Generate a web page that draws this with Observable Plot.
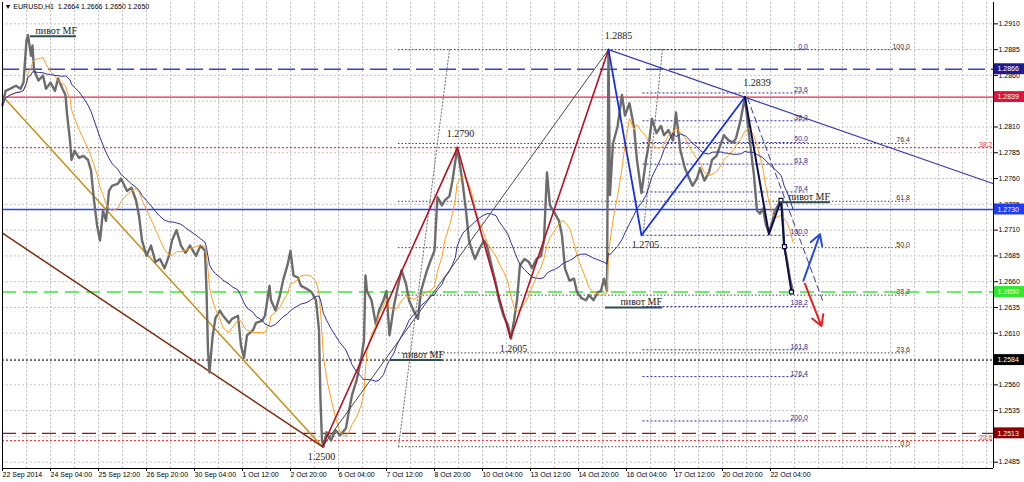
<!DOCTYPE html>
<html><head><meta charset="utf-8">
<script src="https://cdn.jsdelivr.net/npm/d3@7"></script>
<script src="https://cdn.jsdelivr.net/npm/@observablehq/plot@0.6"></script>
<style>
html,body{margin:0;padding:0;background:#fff;}
svg{display:block}
</style></head><body><div id="chart"></div>
<script>
// ---- data ----
const symbolName = "EURUSD,H1";
const lastOHLC = [1.2664, 1.2666, 1.2650, 1.2650];

const priceBars = [0,2,5,9,12,14,16,17,19,20,21,24,27,29,32,35,37,40,42,43,45,46,48,51,54,57,59,61,63,65,67,69,71,73,77,79,83,86,89,91,93,96,99,102,105,108,111,113,116,119,122,125,129,132,135,136,137,138,140,142,145,147,151,153,157,159,161,163,167,169,173,175,178,179,182,185,187,190,192,194,197,199,203,206,209,211,212,213,214,216,219,222,225,229,231,233,236,239,241,242,243,246,249,251,254,256,258,261,263,266,269,271,274,277,279,283,285,288,290,293,295,298,300,302,303,305,307,309,311,313,315,318,321,323,326,329,331,334,337,339,341,343,345,348,351,353,356,359,361,363,365,368,371,373,375,378,381,383,386,389,391,394,397,399,401,403,404,405,407,410,413,415,418,421,423,426,429,431,433,436,439,441,444,447,449,452,455,457,460,463,465,468,471,473,476,479,481,484,487,489,492,495,497,499,501,503,505,507,509,511,513,515,517,519,520,521,523,525,527];
const priceVals = [1.2831,1.2845,1.2847,1.2850,1.2847,1.2853,1.2894,1.2899,1.2879,1.2889,
1.2865,1.2855,1.2860,1.2847,1.2853,1.2845,1.2857,1.2847,1.2841,1.2823,
1.2797,1.2778,1.2787,1.2780,1.2782,1.2778,1.2768,1.2739,1.2715,1.2700,
1.2729,1.2719,1.2748,1.2753,1.2755,1.2760,1.2748,1.2751,1.2739,1.2724,
1.2700,1.2685,1.2695,1.2679,1.2682,1.2673,1.2685,1.2700,1.2710,1.2695,
1.2688,1.2695,1.2685,1.2695,1.2690,1.2652,1.2593,1.2572,1.2606,1.2625,
1.2632,1.2627,1.2620,1.2624,1.2627,1.2598,1.2586,1.2608,1.2613,1.2620,
1.2622,1.2627,1.2656,1.2642,1.2632,1.2647,1.2661,1.2676,1.2690,1.2666,
1.2664,1.2656,1.2653,1.2650,1.2642,1.2613,1.2545,1.2506,1.2500,1.2514,
1.2506,1.2516,1.2511,1.2518,1.2535,1.2550,1.2564,1.2584,1.2603,1.2666,
1.2651,1.2642,1.2618,1.2632,1.2642,1.2651,1.2608,1.2637,1.2651,1.2671,
1.2658,1.2642,1.2632,1.2624,1.2651,1.2671,1.2679,1.2690,1.2742,1.2734,
1.2739,1.2743,1.2758,1.2778,1.2790,1.2773,1.2753,1.2729,1.2700,1.2690,
1.2682,1.2692,1.2700,1.2695,1.2676,1.2658,1.2642,1.2627,1.2618,1.2605,
1.2622,1.2642,1.2676,1.2682,1.2679,1.2673,1.2682,1.2685,1.2700,1.2766,
1.2734,1.2727,1.2719,1.2705,1.2673,1.2661,1.2663,1.2650,1.2644,1.2642,
1.2647,1.2642,1.2650,1.2651,1.2663,1.2651,1.2885,1.2744,1.2794,1.2810,
1.2841,1.2821,1.2833,1.2810,1.2778,1.2746,1.2778,1.2794,1.2818,1.2804,
1.2811,1.2802,1.2807,1.2797,1.2824,1.2787,1.2770,1.2763,1.2753,1.2760,
1.2770,1.2758,1.2766,1.2778,1.2782,1.2794,1.2802,1.2797,1.2795,1.2799,
1.2816,1.2839,1.2811,1.2787,1.2763,1.2729,1.2726,1.2731,1.2715,1.2708,
1.2717,1.2729,1.2734,1.2739,1.2727,1.2695,1.2681,1.2663,1.2650];

const xTickBars = [0,32,64,96,128,160,192,224,256,288,320,352,384,416,448,480,512];
const xTickLabels = ["22 Sep 2014","24 Sep 04:00","25 Sep 12:00","26 Sep 20:00","30 Sep 04:00","1 Oct 12:00","2 Oct 20:00","6 Oct 04:00","7 Oct 12:00","8 Oct 20:00","10 Oct 04:00","13 Oct 12:00","14 Oct 20:00","16 Oct 04:00","17 Oct 12:00","20 Oct 20:00","22 Oct 04:00"];
const yTicks = [1.2485,1.2510,1.2535,1.2560,1.2585,1.2610,1.2635,1.2660,1.2685,1.2710,1.2735,1.2760,1.2785,1.2810,1.2835,1.2860,1.2885,1.2910];
// tick labels that the price boxes cover completely
const yTicksHidden = [1.2510, 1.2585, 1.2835];

// horizontal levels
const levelBlueDash = 1.2866, levelCrimson = 1.2839, levelBlue = 1.2730, levelGreen = 1.2650, levelBlack = 1.2584, levelDarkRed = 1.2513;
const boxLevels = [1.2866, 1.2839, 1.2730, 1.2650, 1.2584, 1.2513];
const redFibPrices = [1.2790, 1.2506];
const redFibLabels = ["38.2", "23.6"];

// big fibonacci (1.2500 -> 1.2885)
const blackFibPrices = [1.2500, 1.2591, 1.2647, 1.2693, 1.2738, 1.2794, 1.2885];
const blackFibLabels = ["0.0","23.6","38.2","50.0","61.8","76.4","100.0"];
const blackFibSpan = [264, 605];
const blackFibDiag = {x: [264, 298], y: [1.2500, 1.2885]};

// small fibonacci (1.2885 -> 1.2705)
const blueFibPrices = [1.2885, 1.2843, 1.2816, 1.2795, 1.2774, 1.2747, 1.2705, 1.2636, 1.2594, 1.2568, 1.2525];
const blueFibLabels = ["0.0","23.6","38.2","50.0","61.8","76.4","100.0","138.2","161.8","176.4","200.0"];
const blueFibSpan = [427, 537];
const blueFibDiag = {x: [427, 440], y: [1.2705, 1.2885]};

// trend lines / zigzags
const goldLine = {x: [0, 213.3], y: [1.2840, 1.2500]};
const brownLine = {x: [0, 213.3], y: [1.2707, 1.2500]};
const greyTrend = {x: [213.3, 404], y: [1.2500, 1.2885]};
const redZigzag = {x: [213.3, 303.3, 338.7, 404], y: [1.2500, 1.2790, 1.2605, 1.2885]};
const blueZigzag = {x: [404, 426, 495], y: [1.2885, 1.2705, 1.2839]};
const navyZigzag = {x: [495, 511, 519, 521.3, 526], y: [1.2839, 1.2706, 1.2739, 1.2694, 1.2650]};
const navySquares = {x: [519, 521.3, 526], y: [1.2739, 1.2694, 1.2650]};
const downTrend = {x: [404, 660.7], y: [1.2885, 1.2755]};
const dashedChannel = {x: [496.7, 546.7], y: [1.2838, 1.2642]};
const arrowUp = {x: [534, 545], y: [1.2661, 1.2706]};
const arrowDown = {x: [535, 546], y: [1.2658, 1.2617]};

// "пивот MF" marks
const pivotPrices = [1.2898, 1.2584, 1.2635, 1.2737];
const pivotX1 = [18.7, 258.7, 402, 518.7];
const pivotX2 = [49.3, 293.3, 440, 552];
const pivotTextX = [22, 266.7, 412, 524];

// swing labels
const swingUp = {x: [410.7, 503, 305.3], y: [1.2885, 1.2839, 1.2790]};
const swingDown = {x: [428.7, 340.7, 212.7], y: [1.2705, 1.2605, 1.2500]};

// ---- chart ----
const xDomain = [0, 660.7];
const yDomain = [1.24789, 1.29307];
const rows = priceBars.map((b, i) => ({b, p: priceVals[i]}));
const pairs = o => o.x.map((x, i) => ({x, y: o.y[i]}));
const fmt = d => d.toFixed(4);
const serif = "Liberation Serif, Times New Roman, serif";
const boxX1 = 661.3, boxX2 = 682, boxTx = 663.3, halfBox = 0.00053;

const marks = [
  Plot.gridX(d3.range(0, 661, 16), {stroke: "#c4c4c4", strokeOpacity: 1, strokeDasharray: "2,2"}),
  Plot.gridY(yTicks, {stroke: "#c4c4c4", strokeOpacity: 1, strokeDasharray: "2,2"}),

  // horizontal levels
  Plot.ruleY([levelBlueDash], {stroke: "#3a44b8", strokeWidth: 1.5, strokeDasharray: "17,6"}),
  Plot.ruleY([levelCrimson], {stroke: "#e8284c", strokeWidth: 1.2}),
  Plot.ruleY(redFibPrices, {stroke: "#ff3a3a", strokeWidth: 1.3, strokeDasharray: "2,2"}),
  Plot.ruleY([levelBlue], {stroke: "#2244ff", strokeWidth: 1.3}),
  Plot.ruleY([levelGreen], {stroke: "#3ce63c", strokeWidth: 1.6, strokeDasharray: "14,7"}),
  Plot.ruleY([levelBlack], {stroke: "#000", strokeWidth: 1, strokeDasharray: "2,2"}),
  Plot.ruleY([levelDarkRed], {stroke: "#8b1a1a", strokeWidth: 1.2, strokeDasharray: "14,6"}),
  Plot.text(redFibPrices, {x: xDomain[1], y: d => d, text: (d, i) => redFibLabels[i], textAnchor: "end", lineAnchor: "bottom", dx: -1, dy: -1, fill: "#ff3a3a", fontSize: 7}),

  // fibonacci grids
  Plot.ruleY(blackFibPrices, {y: d => d, x1: blackFibSpan[0], x2: blackFibSpan[1], stroke: "#444", strokeWidth: 1, strokeDasharray: "1.5,2"}),
  Plot.text(blackFibPrices, {x: blackFibSpan[1], y: d => d, text: (d, i) => blackFibLabels[i], textAnchor: "end", lineAnchor: "bottom", dy: -1, fill: "#333", fontSize: 7}),
  Plot.line(pairs(blackFibDiag), {x: "x", y: "y", stroke: "#777", strokeWidth: 1, strokeDasharray: "1.5,2"}),
  Plot.ruleY(blueFibPrices, {y: d => d, x1: blueFibSpan[0], x2: blueFibSpan[1], stroke: "#2a2a90", strokeWidth: 1, strokeDasharray: "2,2"}),
  Plot.text(blueFibPrices, {x: blueFibSpan[1], y: d => d, text: (d, i) => blueFibLabels[i], textAnchor: "end", lineAnchor: "bottom", dy: -1, fill: "#2a2a90", fontSize: 7}),
  Plot.line(pairs(blueFibDiag), {x: "x", y: "y", stroke: "#777", strokeWidth: 1, strokeDasharray: "1.5,2"}),

  // long trend lines
  Plot.line(pairs(goldLine), {x: "x", y: "y", stroke: "#c8901a", strokeWidth: 1.5}),
  Plot.line(pairs(brownLine), {x: "x", y: "y", stroke: "#7a2c10", strokeWidth: 1.5}),

  // price
  Plot.line(rows, {x: "b", y: "p", stroke: "#6c6c6c", strokeWidth: 2.4}),
  Plot.lineY(rows, Plot.windowY({k: 7, anchor: "end"}, {x: "b", y: "p", stroke: "#ffa020", strokeWidth: 1})),
  Plot.lineY(rows, Plot.windowY({k: 18, anchor: "end"}, {x: "b", y: "p", stroke: "#30309a", strokeWidth: 1})),

  // zigzags and trends
  Plot.line(pairs(greyTrend), {x: "x", y: "y", stroke: "#4a4a4a", strokeWidth: 1}),
  Plot.line(pairs(redZigzag), {x: "x", y: "y", stroke: "#b80e22", strokeWidth: 1.6}),
  Plot.line(pairs(downTrend), {x: "x", y: "y", stroke: "#3838a8", strokeWidth: 1.1}),
  Plot.line(pairs(dashedChannel), {x: "x", y: "y", stroke: "#3838a8", strokeWidth: 1, strokeDasharray: "6,4"}),
  Plot.line(pairs(blueZigzag), {x: "x", y: "y", stroke: "#1530e6", strokeWidth: 1.8}),
  Plot.line(pairs(navyZigzag), {x: "x", y: "y", stroke: "#0e0e48", strokeWidth: 2}),
  Plot.dot(pairs(navySquares), {x: "x", y: "y", symbol: "square", r: 2.2, fill: "white", stroke: "#0e0e48", strokeWidth: 1.2}),
  Plot.arrow([arrowUp], {x1: d => d.x[0], y1: d => d.y[0], x2: d => d.x[1], y2: d => d.y[1], stroke: "#2a4ad8", strokeWidth: 2, headLength: 9}),
  Plot.arrow([arrowDown], {x1: d => d.x[0], y1: d => d.y[0], x2: d => d.x[1], y2: d => d.y[1], stroke: "#e82020", strokeWidth: 2, headLength: 9}),

  // pivots
  Plot.ruleY(pivotPrices, {y: d => d, x1: (d, i) => pivotX1[i], x2: (d, i) => pivotX2[i], stroke: "#2f4f4f", strokeWidth: 2}),
  Plot.text(pivotPrices, {x: (d, i) => pivotTextX[i], y: d => d, text: () => "пивот MF", textAnchor: "start", lineAnchor: "bottom", dy: -2, fontFamily: serif, fontSize: 10, fill: "#1a1a1a"}),

  // swing labels
  Plot.text(pairs(swingUp), {x: "x", y: "y", text: d => fmt(d.y), lineAnchor: "bottom", dy: -11, fontFamily: serif, fontSize: 10, fill: "#1a1a1a"}),
  Plot.text(pairs(swingDown), {x: "x", y: "y", text: d => fmt(d.y), lineAnchor: "top", dy: 6, fontFamily: serif, fontSize: 10, fill: "#1a1a1a"}),

  // header
  Plot.text([symbolName], {frameAnchor: "top-left", text: d => "\u25BC " + d + "  " + lastOHLC.map(fmt).join(" "), textAnchor: "start", lineAnchor: "top", dx: 2, dy: 2, fontSize: 7, fill: "#000"}),

  // frame
  Plot.ruleX([xDomain[0], xDomain[1]], {stroke: "#000"}),
  Plot.ruleY([yDomain[0]], {stroke: "#000"}),

  // axes
  Plot.axisY(yTicks, {anchor: "right", tickFormat: d => yTicksHidden.includes(d) ? "" : fmt(d), tickSize: 4, tickPadding: 1, fontSize: 7, stroke: "#000", fill: "#000"}),
  Plot.axisX(xTickBars, {anchor: "bottom", tickFormat: d => xTickLabels[xTickBars.indexOf(d)], tickSize: 3, tickPadding: 1, textAnchor: "start", dx: 0, fontSize: 7, stroke: "#000", fill: "#000"}),

  // price boxes on axis
  Plot.rect(boxLevels, {x1: boxX1, x2: boxX2, y1: d => d - halfBox, y2: d => d + halfBox,
    fill: (d, i) => i, clip: false}),
  Plot.text(boxLevels, {x: boxTx, y: d => d, text: fmt, textAnchor: "start", fill: "white", fontSize: 7})
];

const chart = Plot.plot({
  width: 1024, height: 482,
  marginLeft: 2, marginRight: 31, marginTop: 2, marginBottom: 14,
  x: {domain: xDomain, axis: null},
  y: {domain: yDomain, axis: null},
  color: {type: "ordinal", domain: [0,1,2,3,4,5], range: ["#1c1c8c", "#dc143c", "#1e3cf0", "#33e633", "#000000", "#8b0000"]},
  style: {fontFamily: "Liberation Sans, Arial, sans-serif", fontSize: "7px", background: "white", overflow: "visible"},
  marks
});
document.getElementById("chart").appendChild(chart);
</script>
</body></html>
